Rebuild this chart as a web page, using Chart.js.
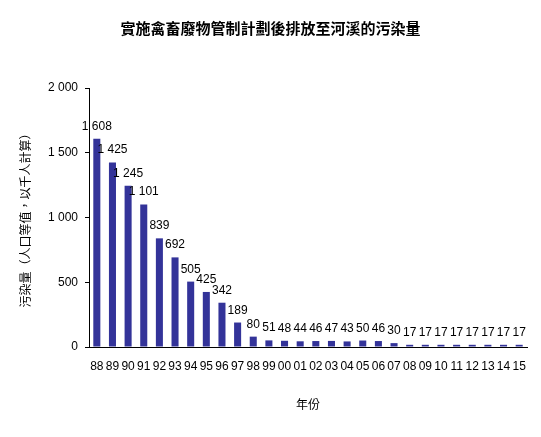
<!DOCTYPE html>
<html>
<head>
<meta charset="utf-8">
<script src="https://cdn.jsdelivr.net/npm/chart.js@4/dist/chart.umd.min.js"></script>
<style>
  html, body { margin: 0; padding: 0; background: #fff; }
  #wrap { width: 541px; height: 437px; }
</style>
</head>
<body>
<div id="wrap"><canvas id="pollutionChart" width="541" height="437"></canvas></div>
<script>
const chartTitle = "實施禽畜廢物管制計劃後排放至河溪的污染量";
const yTitle = "污染量（人口等值，以千人計算）";
const xTitle = "年份";

const years = ["88", "89", "90", "91", "92", "93", "94", "95", "96", "97",
  "98", "99", "00", "01", "02", "03", "04", "05", "06", "07",
  "08", "09", "10", "11", "12", "13", "14", "15"];
const pollution = [1608, 1425, 1245, 1101, 839, 692, 505, 425, 342, 189,
  80, 51, 48, 44, 46, 47, 43, 50, 46, 30,
  17, 17, 17, 17, 17, 17, 17, 17];
const yTicks = [0, 500, 1000, 1500, 2000];

// 千位用空格分隔，例如 1 608
const fmt = (v) => String(v).replace(/\B(?=(\d{3})+(?!\d))/g, " ");

// 柱頂數值標籤
const barLabels = {
  id: "barLabels",
  afterDatasetsDraw(chart) {
    const ctx = chart.ctx;
    const meta = chart.getDatasetMeta(0);
    ctx.save();
    ctx.font = "12px 'Liberation Sans', Arial, sans-serif";
    ctx.fillStyle = "#000";
    ctx.textAlign = "center";
    ctx.textBaseline = "alphabetic";
    meta.data.forEach((bar, i) => {
      ctx.fillText(fmt(pollution[i]), bar.x, bar.y - 9);
    });
    ctx.restore();
  }
};

new Chart(document.getElementById("pollutionChart"), {
  type: "bar",
  data: {
    labels: years,
    datasets: [{
      data: pollution,
      backgroundColor: "#333399",
      borderWidth: 0,
      barPercentage: 0.45,
      categoryPercentage: 1
    }]
  },
  options: {
    responsive: false,
    animation: false,
    layout: { padding: { top: 0, left: 14, right: 14, bottom: 21 } },
    plugins: {
      legend: { display: false },
      tooltip: { enabled: false },
      title: {
        display: true,
        text: chartTitle,
        color: "#000",
        font: { family: "'Noto Sans CJK TC', sans-serif", size: 15, weight: "bold" },
        padding: { top: 19, bottom: 51 }
      }
    },
    scales: {
      x: {
        grid: { display: false },
        border: { display: true, color: "#000", width: 1 },
        ticks: {
          color: "#000",
          font: { family: "'Liberation Sans', Arial, sans-serif", size: 12 },
          padding: 4,
          maxRotation: 0,
          autoSkip: false
        },
        title: {
          display: true,
          text: xTitle,
          color: "#000",
          font: { family: "'Noto Sans CJK TC', sans-serif", size: 12 },
          padding: { top: 4, bottom: 4 }
        },
        afterFit(scale) { scale.height = 437 - 347 - 21; }
      },
      y: {
        min: 0,
        max: 2000,
        afterBuildTicks(scale) { scale.ticks = yTicks.map((v) => ({ value: v })); },
        grid: { display: true, drawOnChartArea: false, drawTicks: true, tickLength: 4, color: "#000" },
        border: { display: true, color: "#000", width: 1 },
        ticks: {
          color: "#000",
          font: { family: "'Liberation Sans', Arial, sans-serif", size: 12 },
          padding: 7,
          callback: (v) => fmt(v)
        },
        title: {
          display: true,
          text: yTitle,
          color: "#000",
          font: { family: "'Noto Sans CJK TC', sans-serif", size: 12 },
          padding: { top: 4, bottom: 4 }
        },
        afterFit(scale) { scale.width = 89 - 14; }
      }
    }
  },
  plugins: [barLabels]
});
</script>
</body>
</html>
